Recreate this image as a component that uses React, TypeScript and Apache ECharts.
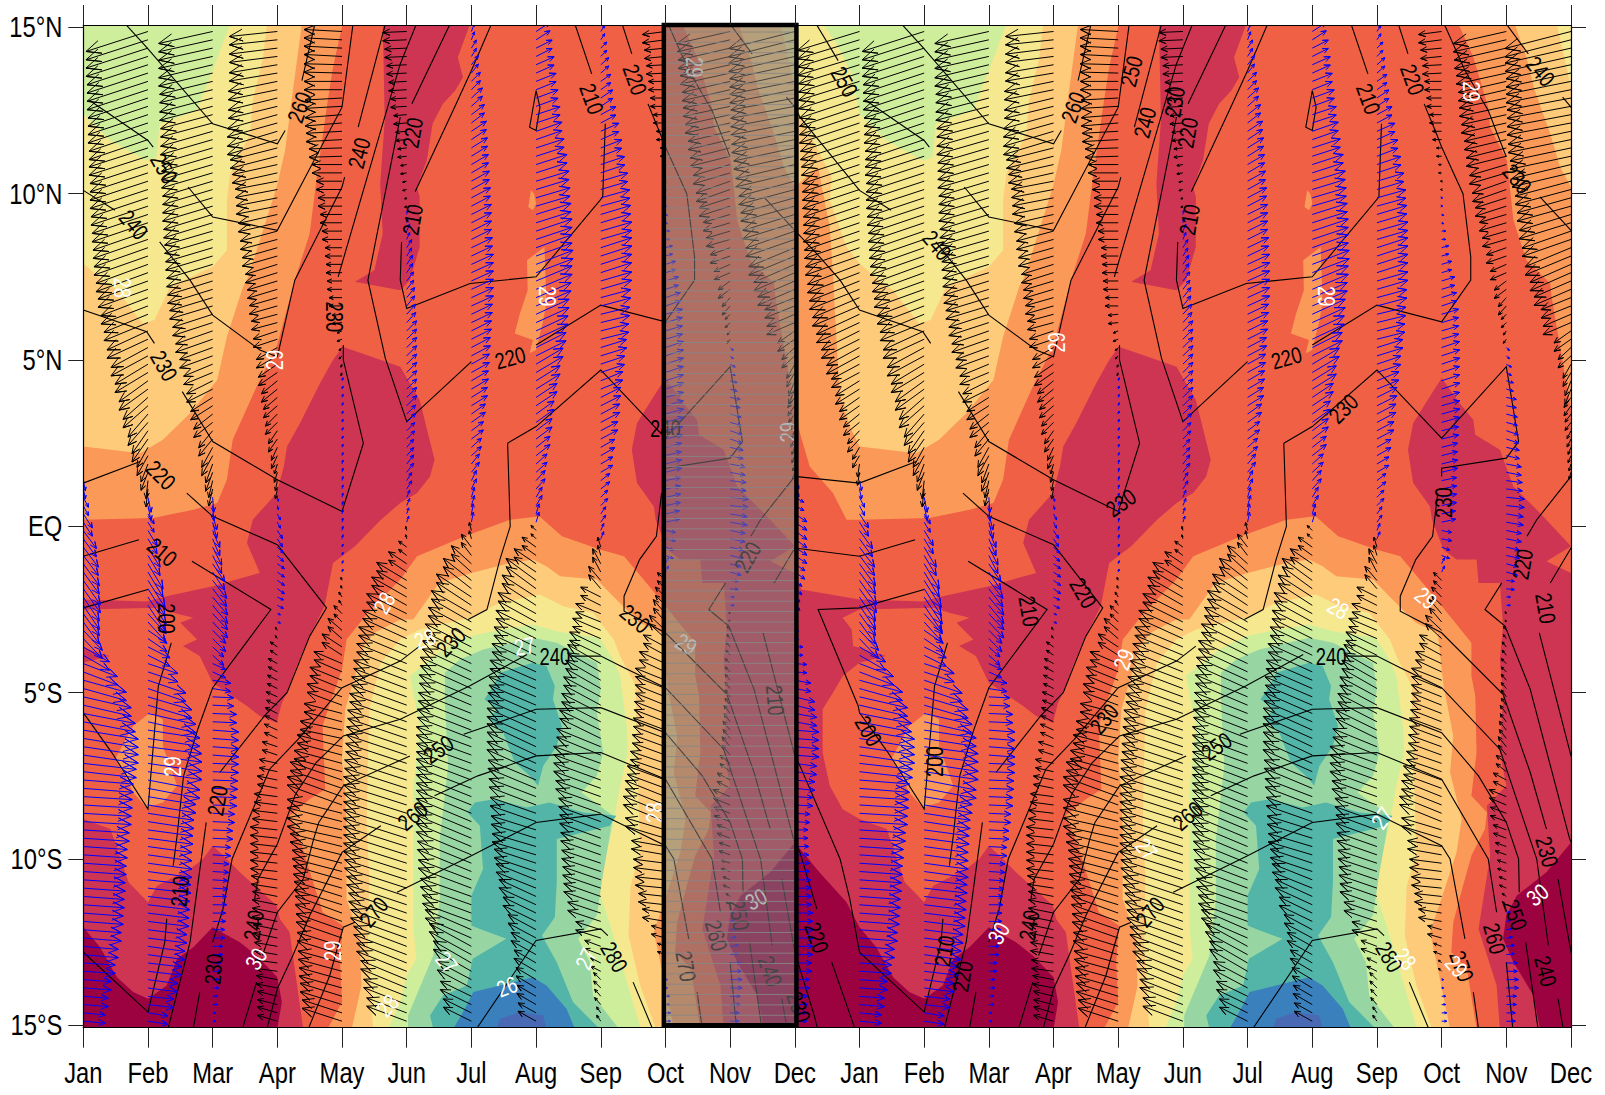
import React, { useEffect, useRef } from "react";
import * as echarts from "echarts";

const monthNames = ["Jan","Feb","Mar","Apr","May","Jun","Jul","Aug","Sep","Oct","Nov","Dec","Jan","Feb","Mar","Apr","May","Jun","Jul","Aug","Sep","Oct","Nov","Dec"];
const latTicks = [-15,-10,-5,0,5,10,15];
const latTickNames = ["15°S","10°S","5°S","EQ","5°N","10°N","15°N"];

// Filled SST bands: outlines in [month, latitude], month 0 = Jan.
const t285North = [[4.01,15.1],[3.86,13.8],[3.78,12.8],[3.61,10.5],[3.5,8.8],[3.27,7.4],[2.99,5.4],[2.68,4.2],[2.31,2.6],[2.22,1.4],[2.07,0.7],[1.7,0.5],[1.08,0.25],[0,0.2],[-0.2,0.2],[-0.41,1],[-0.77,1.8],[-0.92,2.8],[-1.02,3.7],[-1.3,6.9],[-1.32,7.3],[-1.69,8],[-1.89,9.2],[-1.99,11],[-2.25,12],[-2.28,12.6],[-2.51,14.1],[-2.74,15.1]];
const t285South = [[5.16,-0.9],[5.9,-0.3],[6.6,0.2],[7.05,0.3],[7.4,-0.3],[8,-0.7],[8.36,-0.9],[8.92,-2.2],[9.46,-3.5],[9.46,-4.5],[9.52,-5.1],[9.54,-6.8],[9.49,-7.6],[9.46,-8.1],[9.7,-8.6],[9.67,-9.1],[9.46,-9.9],[9.33,-10.8],[9.18,-11.9],[9.15,-12.8],[9.39,-13.3],[9.54,-15.1],[3.78,-15.1],[4,-14.3],[3.97,-13.1],[4.01,-12],[3.7,-11.6],[3.53,-10.55],[3.38,-9.6],[3.19,-8.7],[3.5,-8.2],[3.74,-7.9],[3.7,-6],[3.8,-5.4],[4,-4.3],[4.07,-3.4],[4.4,-2.6],[4.9,-1.6]];
const t285PatchA = [[0.49,-7],[0.77,-6],[1.03,-5.6],[1.23,-5.8],[1.23,-6.6],[1.45,-7.8],[1.23,-8.3],[0.98,-8.45],[0.77,-8],[0.62,-7.4]];
const t285PatchB = [[6.86,8],[7.13,8.4],[7.16,6.7],[7.1,6.1],[7,5.3],[6.9,5.2],[6.95,5.6],[6.67,5.8],[6.75,6.4],[6.87,7.1]];
const t285PatchC = [[6.88,9.6],[6.92,10.1],[6.97,10],[7,9.7],[6.95,9.5]];
const t280North = [[3.38,15.1],[3.24,13.1],[3.12,11.3],[2.99,10.2],[2.68,8.3],[2.55,7.5],[2.47,7.2],[2.22,5.7],[2.07,4.4],[1.65,3.4],[1.23,2.6],[0.88,2.2],[0,2.4],[-0.15,3],[-0.3,3.9],[-0.36,5.7],[-0.41,7.6],[-0.46,9],[-0.64,10.8],[-1,10.2],[-1.17,10.8],[-1.32,11.8],[-1.56,13.1],[-1.69,14.1],[-1.87,15.1]];
const t280South = [[5.1,-2.8],[5.5,-1.7],[6,-1.4],[6.6,-1.1],[6.95,-1],[7.16,-1.2],[7.37,-1.5],[7.94,-1.6],[8.19,-2.1],[8.6,-2.9],[8.94,-3.2],[9.03,-4.8],[9.18,-6.3],[9.13,-7.4],[9.31,-8.8],[9.23,-9.8],[9.03,-11],[8.82,-12.2],[8.92,-13.1],[9.13,-15.1],[4.15,-15.1],[4.3,-13.8],[4.27,-12.4],[4.07,-11.2],[4.07,-9.3],[4.05,-8],[4,-7],[4.05,-5.5],[4.2,-4.5],[4.33,-3.6],[4.5,-3.2],[4.9,-2.8]];
const t275North = [[2.84,15.1],[2.78,14.1],[2.62,12.8],[2.58,11.8],[2.27,10.6],[2.22,9.8],[2.22,8.3],[2,7.8],[1.34,7.2],[1.1,6.2],[0.92,6.1],[0.52,7.1],[0.3,7.4],[0,7.9],[-0.2,8.4],[-0.46,9.8],[-0.43,10.5],[-0.64,11.3],[-0.92,12.3],[-1,13.2],[-1.22,15.1]];
const t275South = [[5.2,-3.1],[5.97,-2.75],[6.44,-2.3],[7.06,-2.05],[7.42,-2.4],[7.88,-2.6],[8.2,-3.4],[8.3,-3.9],[8.54,-4.8],[8.56,-6.8],[8.61,-9.8],[8.46,-10.8],[8.43,-12.3],[8.61,-13.8],[8.85,-15.1],[4.48,-15.1],[4.4,-12.5],[4.42,-10.5],[4.38,-9],[4.4,-7],[4.42,-5.5],[4.6,-4.1],[4.9,-3.4]];
const t270North = [[2.27,15.1],[2,13.7],[1.75,12.5],[1.18,12.1],[1.13,11.1],[0.98,11],[0.42,11.6],[0,12.4],[-0.1,13.5],[-0.35,14.5],[-0.57,15.1]];
const t270South = [[5.05,-4.5],[5.56,-3.7],[5.97,-3.3],[6.34,-3.15],[6.95,-2.95],[7.32,-3.15],[7.98,-3.35],[8.19,-4],[8.3,-4.5],[8.4,-6],[8.42,-6.8],[8.3,-7.8],[8.19,-9],[8.04,-10.2],[7.98,-11],[8.15,-12],[8.3,-13],[8.45,-14],[8.62,-15.1],[4.72,-15.1],[4.9,-14.3],[5,-13.5],[5.15,-13],[5.1,-12],[5.1,-10],[5.1,-8],[5.2,-6]];
const t265South = [[5.59,-4.4],[5.82,-4],[6.18,-3.7],[6.95,-3.35],[7.32,-3.5],[7.94,-4.1],[8,-4.9],[7.94,-5.6],[8.04,-6.8],[7.94,-7.5],[7.7,-8],[8.19,-8.7],[8.14,-9.3],[8.04,-10.4],[7.94,-11.7],[7.65,-12.4],[7.83,-13.1],[7.88,-14.1],[8.28,-15.1],[5.02,-15.1],[5.02,-14.7],[5.41,-12.9],[5.51,-11.2],[5.51,-9.4],[5.64,-7.2],[5.59,-5.3]];
const t260Upper = [[6.44,-4.4],[6.95,-4.1],[7.16,-4.2],[7.29,-4.8],[7.26,-5.2],[7.4,-6],[7.32,-6.6],[7.11,-7.2],[7.03,-7.8],[6.9,-7.5],[6.67,-7.1],[6.49,-6.2],[6.28,-5.8],[6.39,-5.5],[6.2,-5.2],[6.34,-4.8]];
const t260Lower = [[5.94,-8.6],[6.05,-8.3],[6.34,-8.2],[6.85,-8.45],[7.21,-8.3],[7.73,-8.6],[8.24,-8.7],[8.14,-9],[7.32,-9.4],[7.32,-10.7],[7.29,-11.75],[7.09,-12.3],[7.32,-13.1],[7.57,-14.3],[7.98,-15.1],[5.41,-15.1],[5.36,-14.7],[5.56,-14.1],[5.93,-13.8],[6.02,-13],[6.54,-12.4],[6.13,-12.1],[6,-12],[6,-11.1],[6.18,-10.3],[6.13,-9]];
const t255South = [[5.72,-15.1],[5.87,-14.6],[6.03,-14],[6.44,-13.8],[6.95,-13.55],[7.16,-13.8],[7.47,-14.5],[7.6,-15.1]];
const t250South = [[6.39,-15.1],[6.44,-14.8],[6.75,-14.6],[7.11,-14.7],[7.16,-15.1]];
const t295Top = [[4.63,15.1],[5.98,15.1],[5.79,14.1],[5.87,13.5],[5.75,13.1],[5.56,12.7],[5.4,12.1],[5.31,11],[5.16,10.2],[5.2,9.9],[5.2,8.4],[5.05,7.4],[4.9,7.1],[4.2,7.35],[4.5,7.7],[4.63,8.8],[4.59,10.3],[4.66,12.2]];
const t295Main = [[4.01,5.4],[4.9,4.8],[5.2,3.8],[5.43,2],[5.36,1.5],[5.16,1],[4.9,0.7],[4.6,0.2],[4.2,-0.6],[3.86,-1.1],[3.73,-2.4],[3.5,-3.3],[3.3,-4.2],[3.15,-5],[3.07,-5.3],[2.99,-5.9],[2.73,-5.7],[2.53,-5.4],[2,-4.7],[1.8,-3.9],[1.54,-3.6],[1.76,-3.4],[1.5,-2.9],[1.7,-2.75],[1.39,-2.6],[1.14,-2.45],[0,-2.5],[-0.26,-2.75],[-0.12,-3.1],[-0.1,-3.6],[0,-3.65],[0.41,-3.9],[0,-4.1],[-0.26,-4.5],[-0.41,-5],[-0.57,-5.5],[-0.57,-6.8],[-0.46,-7.8],[-0.26,-8.5],[0,-8.8],[0.42,-9.1],[0.52,-9.66],[0.7,-10.7],[0.85,-11],[1,-11.3],[1.14,-10.8],[1.65,-10.3],[1.85,-10],[2,-9.6],[2.27,-10.1],[2.42,-10.4],[2.99,-11.4],[3.04,-11.8],[3.19,-12.2],[3.24,-12.9],[3.4,-15.1],[-2.1,-15.1],[-2.15,-13.8],[-2.43,-12.1],[-2.25,-9.9],[-2.3,-8.4],[-2,-7.8],[-2.1,-6.8],[-2.05,-5.1],[-2.1,-4],[-2.05,-3],[-2.1,-1.7],[-2.43,-1.7],[-2.46,-1],[-2.77,-1],[-2.97,-0.7],[-3.15,0.2],[-3.18,0.6],[-3.44,1.3],[-3.52,2.3],[-3.44,3.1],[-3.28,3.6],[-3,4.46],[-2.72,3.7],[-2.51,3.2],[-2.48,2.75],[-2.1,2.3],[-1.89,1.2],[-1.48,0.4],[-1,-0.6],[-1.38,-1.05],[-1,-1.4],[-0.9,-1.9],[0,-2.2],[0.98,-2.26],[1.29,-2.1],[2,-1.8],[2.73,-1.4],[2.53,-0.5],[2.62,0.2],[2.99,1],[3.1,1.8],[3.15,2.4],[3.35,3.1],[3.66,4.3],[3.86,5]];
const t300South = [[-1.48,-15.1],[-1.58,-14.1],[-1.89,-13.1],[-2.05,-12.4],[-2,-11.7],[-1.84,-11.1],[-1.38,-10.4],[-1,-9.5],[-0.62,-10.4],[-0.2,-11.3],[0,-12.05],[0.26,-12.65],[0.52,-13.55],[0.77,-14],[1,-14.2],[1.29,-13.8],[1.45,-13],[1.7,-12.65],[2,-12.05],[2.42,-12.5],[2.68,-12.9],[3,-13.55],[3.07,-14.3],[3,-15.1]];

// OLR contours, one list per level, each piece in [month, latitude].
const olr200 = [[[1,-1.9],[0,-2.45],[-0.64,-2.5],[-0.02,-5.4],[0,-5.6],[0.44,-6.8],[1,-8.5],[1.16,-4.8],[1.36,-3.5]]];
const olr210 = [[[-1.32,-1.7],[-1,-0.65],[0,-0.9],[0.86,-0.4]],[[1.68,-1.05],[2.9,-2.5],[2,-4.85],[1.77,-6.1],[1.55,-7.5],[1.45,-9.3],[1.39,-10.2]],[[1.29,-11.8],[1.26,-12.5],[1,-14.6],[0,-12.8],[-0.15,-11.2],[-0.3,-10],[-0.92,-7.2],[-1,-6.9],[-1.49,-3.2]],[[6.31,15.1],[6,13.7],[5.74,12.6],[5.13,10.06]],[[4.92,8.55],[4.9,7.4],[5,6.55],[5.98,7.3],[7,7.5],[8.03,9.9],[8.07,12.1]],[[7.86,13.6],[7.6,15.1]],[[7,13.1],[6.9,12],[7,11.9],[7.06,12.6],[7,13.1]]];
const olr220 = [[[5.67,15.1],[5.08,12.7]],[[4.9,12.3],[4.4,7.4],[4.67,5.05],[5,3.15],[6,4.95]],[[7,5.45],[8,6.65],[9,6.15],[9.45,7.4],[9.45,8.1],[9.33,10],[9,11.4],[8.92,11.8],[8.73,12.7]],[[8.48,14.2],[8.33,15.1]],[[-1.68,-0.3],[-1.53,0.2],[-1,1.5],[0,1.3],[0.88,1.95]],[[1.6,1],[2,0.3],[3,-0.55],[3.18,-1],[3.76,-2.45],[3.5,-3.3],[3.15,-5],[2.8,-5.7],[2.11,-7.4]],[[1.9,-8.9],[1.65,-12.5],[1.31,-15.1]],[[-2.07,-1.7],[-2.33,-2.5],[-2.02,-3],[-1.63,-4.9],[-1.02,-9.4],[-0.92,-9.8],[-0.66,-11.5]],[[-0.43,-13.1],[-0.07,-15.1]]];
const olr230 = [[[-2.96,15.1],[-2.64,13.7],[-2.28,12.5],[-2,11.1]],[[-1.48,9.9],[-1,8.9],[-0.64,8.15],[-0.3,7.4],[0,6.5],[0.98,5.85],[1.1,5.5]],[[1.53,4.05],[2,2.55],[3,1.4],[4,0.45],[4.33,2.5],[4.02,5],[4.02,5.45]],[[3.94,7.5],[4.9,13.9],[5.15,15.1]],[[6.56,2.5],[7,3],[8,4.7],[9,2.65],[10,4.8],[10.19,2.55],[10,2.05],[9,1.75],[9,1.5]],[[8.94,1],[8.86,-0.3],[8.6,-1],[8.36,-2.1],[8.36,-2.55],[9,-3.2],[9.95,-5.05],[10.37,-7.4],[10.62,-9.1]],[[10.8,-10.6],[11,-12.8],[11.3,-14.7],[11.35,-15.1]],[[6.56,2.5],[6.6,0],[6.44,-1],[6.24,-2.5],[5.95,-2.8]],[[5.2,-3.6],[4.9,-4.05],[4,-4.85],[3.32,-6.4],[2.88,-7.3],[2.58,-8.7],[2.3,-10],[2.16,-11.5],[2,-12.5]],[[1.8,-14],[1.7,-15.1]]];
const olr240 = [[[-2,15.1],[-1.66,14.2]],[[-1.13,12.9],[-1,12.6],[-0.92,12.3],[0,10.1],[0.49,9.5]],[[1.18,8.55],[1.65,7.4],[2,6.35],[2.73,5.3],[3,5.1],[3.27,7.4],[4,10.2],[4.04,10.5]],[[4.25,12],[4.67,15.1]],[[2.46,-15.1],[2.68,-13.7]],[[2.65,-11.2],[2.7,-10.6],[3,-9.55],[3.28,-8.05],[3.6,-7.1],[4.02,-6.3],[4.9,-5.8],[5.97,-4.8],[6.86,-3.85]],[[7.52,-3.9],[8,-3.9],[8.36,-4.25],[9,-4.85],[9.9,-6.7],[10.47,-10],[10.65,-12.6]],[[10.8,-14.2],[10.88,-15.1]]];
const olr250 = [[[-0.67,15.1],[-0.33,14]],[[0.1,12.8],[1,11.6],[1.08,11.4]],[[1.62,10.2],[2,9.3],[3,8.9],[4,12.6],[4.17,15.1]],[[2.77,-12.9],[3,-11.6],[3.4,-10.6],[3.56,-9.4],[3.64,-8.9],[4.02,-7.8],[5.05,-6.9]],[[5.88,-6.25],[7,-5.5],[8,-5.45],[9,-6.2],[9.57,-7.5],[10,-8.9],[10.19,-10],[10.2,-11]],[[10.3,-12.5],[10.49,-15.1]]];
const olr260 = [[[0.65,15.1],[0.98,14.4],[2,12.1],[3,11.5],[3.12,11.9]],[[3.38,13.4],[3.58,15.1]],[[2.84,-15.1],[3,-13.9],[3.24,-12.9],[3.5,-11.7],[4,-9.8],[4.6,-9]],[[5.43,-8.1],[6.1,-7.5],[7,-6.9],[8,-6.8],[9,-7.6],[9.72,-10],[9.85,-11.6]],[[10,-13.1],[10.1,-15.1]]];
const olr270 = [[[3.48,-15.1],[3.81,-13.5],[4.02,-12.05],[4.2,-11.9]],[[4.85,-11],[6,-9.9],[7,-8.9],[8,-8.65],[9,-9.6],[9.13,-10],[9.36,-12.4]],[[9.49,-14],[9.57,-15.1]]];
const olr280 = [[[6.08,-15.1],[7,-12.45],[8,-12.1],[8.11,-12.3]],[[8.5,-13.7],[8.8,-15.1]]];

// Contour labels: [month, latitude, text, rotation in degrees].
const olrLabels = [[3.34,12.6,"260",70],[1.25,10.76,"250",-60],[0.78,9.07,"240",-50],[1.25,4.83,"230",-60],[1.2,1.54,"220",-45],[1.22,-0.77,"210",-40],[1.28,-2.77,"200",-90],[4.26,11.22,"240",75],[3.88,6.3,"230",-90],[5.09,11.83,"220",80],[5.09,9.22,"210",80],[7.86,12.85,"210",-70],[8.53,13.43,"220",-70],[6.6,5.07,"220",15],[9,2.92,"240",0],[8.53,-2.77,"230",-40],[5.68,-3.47,"230",45],[7.29,-3.93,"240",0],[5.49,-6.7,"250",35],[5.09,-8.7,"260",40],[4.49,-11.59,"270",50],[8.21,-12.94,"280",-60],[2.07,-8.24,"220",80],[1.49,-10.97,"210",85],[2.63,-11.99,"240",80],[2.01,-13.31,"230",85],[10.27,-0.92,"220",60],[10.7,-5.23,"210",-85],[9.32,-13.22,"270",-80],[9.79,-12.3,"260",-75],[10.14,-11.68,"250",-80],[10.62,-13.37,"240",-70],[11.77,13.37,"250",-60],[13.2,8.45,"240",-50],[15.3,12.6,"260",70],[16.2,13.68,"250",75],[16.41,12.14,"240",75],[16.87,12.76,"230",80],[17.07,11.83,"220",80],[17.1,9.22,"210",80],[18.6,5.07,"220",15],[19.48,3.54,"230",45],[19.87,12.85,"210",-70],[20.55,13.43,"220",-70],[22.53,13.68,"240",-50],[22.17,10.45,"230",-50],[16.04,0.71,"230",35],[21.03,0.71,"230",90],[15.46,-2,"220",-60],[14.62,-2.55,"210",-80],[22.25,-1.14,"220",80],[22.61,-2.46,"210",-80],[12.14,-6.15,"200",-60],[13.16,-7.07,"200",90],[11.34,-12.36,"220",-70],[11.06,-14.45,"230",-70],[13.31,-12.76,"210",80],[13.59,-13.53,"220",80],[14.62,-11.99,"240",80],[15.78,-5.78,"230",50],[17.52,-6.61,"250",35],[17.07,-8.7,"260",40],[16.49,-11.59,"270",50],[19.29,-3.93,"240",0],[20.19,-12.94,"280",-60],[22.63,-9.78,"230",-75],[22.14,-11.68,"250",-70],[21.82,-12.39,"260",-75],[21.31,-13.22,"270",-70],[22.61,-13.37,"240",-75]];
const sstLabels = [[2.96,5,"29",90],[1.38,-7.22,"29",90],[7.18,6.92,"29",-90],[3.86,-12.76,"29",90],[2.67,-13,"30",60],[0.6,7.17,"28",-90],[4.65,-2.3,"28",60],[5.28,-3.38,"28",20],[6.82,-3.6,"27",10],[6.55,-13.83,"26",20],[7.77,-13,"27",65],[5.62,-13.1,"27",-50],[8.83,-8.6,"28",90],[4.7,-14.4,"28",50],[9.32,-3.54,"29",-30],[10.4,-11.2,"30",30],[10.9,2.83,"29",90],[9.44,13.8,"29",-90],[15.05,5.53,"29",90],[19.4,-2.46,"28",-30],[20.76,-2.15,"29",-40],[16.08,-4,"29",70],[20.08,-8.76,"27",55],[19.21,6.92,"29",-90],[20.44,-13,"28",-50],[21.23,-13.22,"29",-50],[22.48,-11.07,"30",40],[14.15,-12.23,"30",60],[21.46,13.07,"29",-90],[16.44,-9.7,"27",-50]];

// Wind components per month, read every 0.5° of latitude from 14.75°N to 14.75°S.
// Units are one picture pixel of arrow length. Each reading is drawn as two arrows
// on the picture's 0.25° row spacing, so the two arrows of a reading share one value.
const uJan = [-62,-62,-61,-61,-60,-60,-59,-58,-57,-57,-56,-56,-55,-54,-52,-50,-47,-43,-38,-33,-28,-24,-20,-16,-12,-7,-2,2,5,9,13,15,16,17,16,16,19,26,34,43,48,52,55,55,53,50,49,48,46,44,43,42,41,40,38,35,32,28,25,22];
const vJan = [-19,-19,-19,-19,-20,-20,-20,-19,-19,-19,-19,-19,-19,-19,-20,-20,-20,-20,-19,-18,-15,-15,-14,-13,-13,-12,-13,-10,-10,-14,-18,-20,-22,-24,-24,-22,-20,-15,-13,-12,-11,-10,-9,-8,-6,-4,-3,-3,-3,-3,-3,-3,-3,-3,-3,-3,-2,-2,-2,-2];
const uFeb = [-62,-62,-61,-61,-60,-60,-59,-59,-58,-58,-57,-56,-55,-54,-52,-50,-47,-44,-41,-37,-33,-29,-25,-20,-16,-11,-7,-2,3,6,9,12,15,17,18,18,19,22,30,38,44,48,52,54,54,52,48,46,45,44,44,43,42,41,39,37,34,30,26,20];
const vFeb = [-20,-20,-20,-20,-20,-20,-20,-19,-19,-19,-19,-19,-19,-19,-19,-18,-18,-18,-19,-20,-20,-21,-22,-23,-23,-20,-18,-18,-15,-10,-15,-20,-25,-27,-27,-20,-13,-11,-10,-13,-13,-11,-8,-7,-8,-10,-8,-7,-6,-6,-6,-5,-5,-5,-5,-5,-4,-4,-3,-3];
const uMar = [-54,-54,-54,-53,-53,-52,-52,-51,-51,-50,-50,-49,-48,-47,-46,-45,-43,-40,-37,-33,-29,-26,-22,-19,-14,-11,-7,-4,1,4,7,9,12,14,15,15,13,11,13,18,21,24,26,26,26,25,24,22,20,18,16,15,14,13,12,10,8,6,5,3];
const vMar = [-12,-12,-13,-13,-14,-14,-15,-15,-15,-15,-15,-15,-14,-14,-14,-14,-13,-13,-13,-12,-12,-13,-14,-15,-17,-20,-19,-17,-15,-16,-17,-18,-18,-18,-18,-16,-13,-10,-6,-3,-1,-1,-2,-2,-1,-1,-1,-1,-1,-1,-1,-1,0,0,0,0,0,0,0,0];
const uApr = [-48,-48,-48,-49,-49,-50,-50,-47,-45,-42,-41,-39,-37,-35,-32,-30,-28,-26,-24,-21,-19,-16,-14,-12,-9,-6,-3,-2,1,3,5,6,7,7,6,3,-2,-7,-9,-10,-11,-12,-13,-15,-18,-20,-23,-25,-27,-27,-27,-26,-25,-25,-24,-23,-22,-21,-20,-20];
const vApr = [-5,-6,-8,-10,-12,-14,-15,-12,-10,-8,-8,-9,-10,-10,-10,-9,-8,-7,-8,-12,-13,-13,-12,-12,-13,-13,-10,-10,-4,-6,-8,-6,-5,-5,-3,-1,3,5,5,5,5,6,6,5,4,4,3,3,3,3,3,4,5,5,5,4,3,4,5,6];
const uMay = [-38,-38,-38,-38,-37,-37,-36,-33,-30,-26,-24,-22,-20,-17,-16,-15,-13,-10,-5,-3,-1,1,1,1,1,1,1,1,1,1,1,1,1,-1,-3,-8,-14,-20,-28,-32,-35,-38,-42,-45,-48,-52,-55,-55,-55,-52,-50,-49,-48,-47,-46,-45,-44,-43,-42,-40];
const vMay = [2,2,1,0,-2,-3,-2,-1,0,0,0,0,0,0,0,0,0,-1,-2,-3,-3,3,3,3,3,3,4,4,4,4,4,3,3,3,5,8,12,13,12,13,13,10,9,12,13,18,20,14,12,13,13,14,15,17,16,14,12,12,13,13];
const uJun = [-24,-22,-20,-18,-16,-13,-11,-9,-6,-4,-2,1,3,5,6,7,8,9,10,10,10,10,10,9,8,7,7,5,3,2,-1,-8,-18,-30,-35,-40,-44,-48,-50,-53,-55,-57,-59,-60,-61,-62,-63,-63,-63,-63,-63,-62,-60,-58,-56,-53,-50,-46,-43,-40];
const vJun = [-1,-1,-1,-1,-1,-1,-1,-1,-1,-1,-1,4,7,8,9,9,10,10,10,10,10,10,10,9,8,8,9,8,7,6,4,6,12,18,20,20,20,20,20,20,20,20,20,20,20,20,20,20,20,20,20,20,20,20,20,20,20,19,17,15];
const uJul = [3,5,7,9,11,13,15,16,17,18,19,20,20,21,22,22,22,21,20,19,18,17,16,14,12,10,8,5,3,2,-2,-10,-20,-28,-35,-40,-43,-46,-49,-51,-52,-53,-54,-55,-55,-55,-55,-55,-55,-55,-54,-53,-51,-49,-46,-42,-38,-34,-31,-28];
const vJul = [8,8,9,9,10,10,10,10,10,10,10,10,10,10,10,10,10,10,10,10,10,10,10,10,9,9,10,10,10,10,8,13,18,22,23,23,23,23,23,23,22,21,21,20,20,21,22,23,23,23,22,20,18,18,20,23,22,18,15,14];
const uAug = [14,16,18,20,22,24,26,28,31,33,34,35,36,36,37,36,35,33,32,30,27,24,21,18,16,14,11,9,6,3,-5,-14,-22,-30,-34,-38,-40,-42,-44,-46,-47,-48,-49,-49,-49,-48,-47,-46,-45,-44,-42,-40,-37,-33,-28,-25,-22,-20,-19,-18];
const vAug = [9,8,8,8,8,8,9,9,10,10,10,11,12,13,14,15,15,15,15,15,16,15,14,13,12,11,10,10,10,10,5,10,15,22,22,21,20,20,20,20,20,21,22,23,22,20,18,16,14,13,14,16,17,16,15,14,13,12,11,10];
const uSep = [4,6,8,10,12,15,18,21,24,27,29,30,31,31,31,31,30,29,28,26,24,22,20,19,17,14,12,9,7,5,3,-3,-8,-12,-20,-25,-28,-31,-33,-35,-37,-39,-41,-44,-47,-47,-45,-42,-41,-40,-39,-38,-37,-33,-25,-16,-10,-7,-6,-4];
const vSep = [6,6,7,7,8,8,8,8,8,8,8,9,9,10,10,9,8,7,7,8,8,9,10,10,9,8,7,7,7,7,7,10,15,14,10,10,12,15,19,20,20,20,20,18,17,17,16,15,15,14,13,13,13,11,8,6,5,7,7,6];
const uOct = [-23,-21,-19,-17,-15,-12,-9,-5,-3,-1,1,2,4,7,10,13,15,17,17,18,18,18,18,18,17,16,16,15,15,14,10,8,3,-8,-10,-12,-16,-22,-26,-30,-30,-31,-32,-33,-35,-38,-40,-42,-40,-34,-32,-30,-27,-23,-14,-8,-3,2,4,5];
const vOct = [-3,-2,-1,0,0,0,0,0,0,0,0,-1,0,2,3,4,5,5,5,6,6,6,5,5,4,4,4,3,3,3,-2,-3,6,8,10,14,15,12,12,12,12,12,12,12,12,14,16,17,12,6,4,3,3,4,4,3,3,0,0,0];
const uNov = [-53,-52,-50,-48,-47,-45,-42,-40,-37,-34,-31,-27,-24,-20,-16,-12,-8,-5,-3,3,5,7,10,11,12,13,15,16,18,17,15,13,11,8,4,-1,-3,-4,-5,-5,-5,-6,-7,-8,-10,-13,-17,-16,-13,-11,-9,-7,-4,4,6,8,11,12,10,9];
const vNov = [-12,-12,-11,-11,-10,-10,-10,-10,-11,-12,-10,-8,-7,-7,-7,-9,-9,-5,-4,-3,-3,-2,-2,-3,-4,-3,-3,-2,-2,-3,-3,-3,-3,-1,0,2,4,5,5,6,7,8,9,10,8,7,7,6,5,4,3,3,3,1,1,1,0,0,0,0];
const uDec = [-66,-66,-65,-65,-64,-64,-63,-61,-59,-56,-54,-52,-49,-46,-41,-37,-30,-28,-17,-13,-8,-6,-7,-6,-4,-3,-2,4,9,12,12,12,10,7,5,2,4,8,12,16,20,22,24,24,22,20,18,15,13,14,15,16,17,18,19,18,17,15,13,12];
const vDec = [-17,-15,-14,-13,-12,-12,-13,-13,-14,-15,-15,-16,-17,-19,-18,-16,-12,-12,-12,-12,-14,-15,-10,-8,-8,-7,-7,-8,-5,-8,-9,-8,-7,-6,-5,-3,-1,0,-1,-3,-5,-4,-2,-2,-3,-2,-1,-1,0,0,0,0,0,0,0,0,0,0,0,0];

const windU = [uJan,uFeb,uMar,uApr,uMay,uJun,uJul,uAug,uSep,uOct,uNov,uDec];
const windV = [vJan,vFeb,vMar,vApr,vMay,vJun,vJul,vAug,vSep,vOct,vNov,vDec];

const shadedMonths = [9, 11];

const bandLayers: [number[][], string][] = [
  [t285North,"#fb9a58"],[t285South,"#fb9a58"],[t285PatchA,"#fb9a58"],[t285PatchB,"#fb9a58"],[t285PatchC,"#fb9a58"],
  [t280North,"#fdcb7a"],[t280South,"#fdcb7a"],
  [t275North,"#f6e88f"],[t275South,"#f6e88f"],
  [t270North,"#cfee9c"],[t270South,"#cfee9c"],
  [t265South,"#97d6a3"],
  [t260Upper,"#53b5a8"],[t260Lower,"#53b5a8"],
  [t255South,"#3a80bc"],[t250South,"#4a69b5"],
  [t295Top,"#ce3552"],[t295Main,"#ce3552"],[t300South,"#9c0240"],
];
const olrPieces = [...olr200,...olr210,...olr220,...olr230,...olr240,...olr250,...olr260,...olr270,...olr280];
const yearOffsets = [0, 12, 24];
const FONT = "'Liberation Sans', Arial, sans-serif";

export default function App() {
  const ref = useRef<HTMLDivElement>(null);
  useEffect(() => {
    const chart = echarts.init(ref.current!, null, { renderer: "svg" });

    const bandData: number[][] = [];
    bandLayers.forEach((_, i) => yearOffsets.forEach((o) => bandData.push([i, o])));
    const lineData: number[][] = [];
    olrPieces.forEach((_, i) => yearOffsets.forEach((o) => lineData.push([i, o])));
    const arrowData: number[][] = [];
    for (let col = 0; col < 24; col++) {
      const us = windU[col % 12], vs = windV[col % 12];
      us.forEach((u, i) => {
        const lat = 14.75 - 0.5 * i;
        arrowData.push([col, lat + 0.125, u, vs[i]]);
        arrowData.push([col, lat - 0.125, u, vs[i]]);
      });
    }

    const arrow = (params: any, api: any) => {
      const t = api.coord([api.value(0), api.value(1)]);
      const u = api.value(2), v = api.value(3);
      const h = [t[0] + u, t[1] - v];
      const len = Math.hypot(u, v) || 1;
      const size = Math.max(2, Math.min(16, 0.28 * len + 1));
      const ang = Math.atan2(t[1] - h[1], t[0] - h[0]);
      const a = 0.42;
      const b1 = [h[0] + size * Math.cos(ang + a), h[1] + size * Math.sin(ang + a)];
      const b2 = [h[0] + size * Math.cos(ang - a), h[1] + size * Math.sin(ang - a)];
      return {
        type: "polyline",
        shape: { points: [t, h, b1, h, b2] },
        style: { stroke: u >= 0 ? "#0000ff" : "#000000", lineWidth: 1, fill: "none" },
        silent: true,
      };
    };

    const textItem = (color: string) => (params: any, api: any) => {
      const p = api.coord([api.value(0), api.value(1)]);
      return {
        type: "text",
        x: p[0], y: p[1],
        rotation: (api.value(3) * Math.PI) / 180,
        scaleX: 0.8,
        style: {
          text: String(api.value(2)),
          fill: color,
          font: `23px ${FONT}`,
          align: "center",
          verticalAlign: "middle",
        },
        silent: true,
      };
    };

    const xBase = {
      type: "value", min: 0, max: 23, interval: 1,
      splitLine: { show: false }, z: 10,
      axisLine: { show: true, onZero: false, lineStyle: { color: "#000", width: 1.2 } },
      axisTick: { show: true, length: 20, lineStyle: { color: "#222", width: 1 } },
      axisLabel: { show: false },
    };
    const yBase = {
      type: "value", min: -15.07, max: 15.07,
      splitLine: { show: false }, z: 10,
      axisLine: { show: true, onZero: false, lineStyle: { color: "#000", width: 1.2 } },
      axisTick: { show: true, length: 15, customValues: latTicks, lineStyle: { color: "#222", width: 1 } },
      axisLabel: { show: false },
    };

    chart.setOption({
      animation: false,
      backgroundColor: "#fff",
      grid: { left: 83.3, top: 25, width: 1487.7, height: 1002.7, show: true, backgroundColor: "#ef6045", borderWidth: 0 },
      xAxis: [{ ...xBase, position: "bottom" }, { ...xBase, position: "top" }],
      yAxis: [{ ...yBase, position: "left" }, { ...yBase, position: "right" }],
      series: [
        { type: "custom", name: "sst", z: 1, clip: true, silent: true, data: bandData,
          renderItem: (params: any, api: any) => {
            const [pts, color] = bandLayers[api.value(0)];
            const off = api.value(1);
            return { type: "polygon", shape: { points: pts.map((p) => api.coord([p[0] + off, p[1]])) }, style: { fill: color }, silent: true };
          } },
        { type: "custom", name: "olr", z: 2, clip: true, silent: true, data: lineData,
          renderItem: (params: any, api: any) => {
            const pts = olrPieces[api.value(0)];
            const off = api.value(1);
            return { type: "polyline", shape: { points: pts.map((p) => api.coord([p[0] + off, p[1]])) }, style: { stroke: "#000", lineWidth: 1.1, fill: "none" }, silent: true };
          } },
        { type: "custom", name: "wind", z: 3, clip: true, silent: true, progressive: 0, data: arrowData, renderItem: arrow },
        { type: "custom", name: "olrText", z: 4, silent: true, data: olrLabels, renderItem: textItem("#000") },
        { type: "custom", name: "sstText", z: 4, silent: true, data: sstLabels, renderItem: textItem("#fff") },
        { type: "custom", name: "shade", z: 6, silent: true, data: [[shadedMonths[0], shadedMonths[1]]],
          renderItem: (params: any, api: any) => {
            const a = api.coord([api.value(0), 15.07]);
            const b = api.coord([api.value(1), -15]);
            const x0 = a[0] - 1.6, x1 = b[0] + 1.6, y0 = a[1], y1 = b[1];
            const children: any[] = [
              { type: "rect", shape: { x: x0, y: y0, width: x1 - x0, height: y1 - y0 }, style: { fill: "rgba(124,124,124,0.55)" } },
            ];
            for (let y = y0 + 7; y < y1 - 2; y += 10.35) {
              children.push({ type: "line", shape: { x1: x0, y1: y, x2: x1, y2: y }, style: { stroke: "rgba(135,135,135,0.85)", lineWidth: 1 } });
            }
            children.push({ type: "rect", shape: { x: x0, y: y0, width: x1 - x0, height: y1 - y0 }, style: { fill: "none", stroke: "#000", lineWidth: 4.5 } });
            return { type: "group", silent: true, children };
          } },
        { type: "custom", name: "monthText", z: 7, silent: true, data: monthNames.map((_, i) => [i, -15.07]),
          renderItem: (params: any, api: any) => {
            const p = api.coord([api.value(0), api.value(1)]);
            return { type: "text", x: p[0], y: p[1] + 45, scaleX: 0.82,
              style: { text: monthNames[api.value(0)], fill: "#000", font: `29px ${FONT}`, align: "center", verticalAlign: "middle" }, silent: true };
          } },
        { type: "custom", name: "latText", z: 7, silent: true, data: latTicks.map((v) => [0, v]),
          renderItem: (params: any, api: any) => {
            const p = api.coord([api.value(0), api.value(1)]);
            return { type: "text", x: p[0] - 21, y: p[1], scaleX: 0.82,
              style: { text: latTickNames[latTicks.indexOf(api.value(1))], fill: "#000", font: `29px ${FONT}`, align: "right", verticalAlign: "middle" }, silent: true };
          } },
      ],
    });
    return () => chart.dispose();
  }, []);
  return <div ref={ref} style={{ position: "absolute", left: 0, top: 0, width: 1605, height: 1095 }} />;
}
